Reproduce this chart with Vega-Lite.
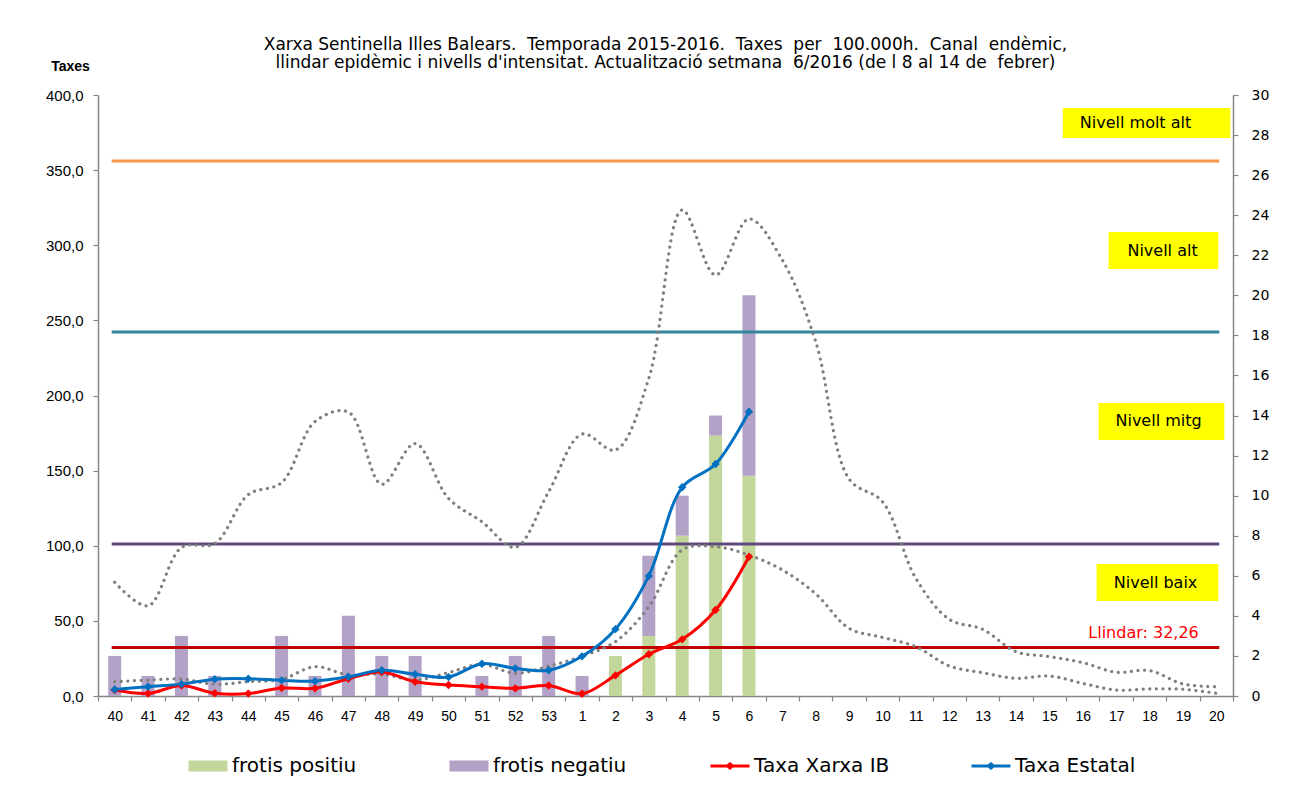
{
  "$schema": "https://vega.github.io/schema/vega-lite/v6.json",
  "width": 1135,
  "height": 601,
  "autosize": {"type": "none"},
  "padding": {"left": 98, "top": 95, "right": 68, "bottom": 98},
  "background": "#ffffff",
  "config": {
    "view": {"stroke": null},
    "axis": {"domainColor": "#868686", "tickColor": "#868686", "labelColor": "#000000", "grid": false, "domainWidth": 1.5, "tickWidth": 1.2},
    "axisX": {"title": null, "labelAngle": 0, "tickBand": "extent", "labelFont": "Liberation Sans", "labelFontSize": 14, "tickSize": 5, "labelPadding": 8}
  },
  "title": {
    "text": ["Xarxa Sentinella Illes Balears.\u00a0 Temporada 2015-2016.\u00a0 Taxes\u00a0 per\u00a0 100.000h.\u00a0 Canal\u00a0 endèmic,", "llindar epidèmic i nivells d'intensitat. Actualització setmana\u00a0 6/2016 (de l 8 al 14 de\u00a0 febrer)"],
    "font": "DejaVu Sans", "fontSize": 17, "fontWeight": "normal", "color": "#000000",
    "anchor": "middle", "frame": "group", "offset": 16, "dy": 29, "lineHeight": 18
  },
  "datasets": {
    "frotis": [
      {"setmana": "40", "serie": "frotis negatiu", "n": 2},
      {"setmana": "41", "serie": "frotis negatiu", "n": 1},
      {"setmana": "42", "serie": "frotis negatiu", "n": 3},
      {"setmana": "43", "serie": "frotis negatiu", "n": 1},
      {"setmana": "45", "serie": "frotis negatiu", "n": 3},
      {"setmana": "46", "serie": "frotis negatiu", "n": 1},
      {"setmana": "47", "serie": "frotis negatiu", "n": 4},
      {"setmana": "48", "serie": "frotis negatiu", "n": 2},
      {"setmana": "49", "serie": "frotis negatiu", "n": 2},
      {"setmana": "51", "serie": "frotis negatiu", "n": 1},
      {"setmana": "52", "serie": "frotis negatiu", "n": 2},
      {"setmana": "53", "serie": "frotis negatiu", "n": 3},
      {"setmana": "1", "serie": "frotis negatiu", "n": 1},
      {"setmana": "2", "serie": "frotis positiu", "n": 2},
      {"setmana": "3", "serie": "frotis positiu", "n": 3},
      {"setmana": "3", "serie": "frotis negatiu", "n": 4},
      {"setmana": "4", "serie": "frotis positiu", "n": 8},
      {"setmana": "4", "serie": "frotis negatiu", "n": 2},
      {"setmana": "5", "serie": "frotis positiu", "n": 13},
      {"setmana": "5", "serie": "frotis negatiu", "n": 1},
      {"setmana": "6", "serie": "frotis positiu", "n": 11},
      {"setmana": "6", "serie": "frotis negatiu", "n": 9}
    ],
    "taxes": [
      {"setmana": "40", "serie": "Taxa Xarxa IB", "taxa": 4.0},
      {"setmana": "41", "serie": "Taxa Xarxa IB", "taxa": 1.7},
      {"setmana": "42", "serie": "Taxa Xarxa IB", "taxa": 7.0},
      {"setmana": "43", "serie": "Taxa Xarxa IB", "taxa": 1.8},
      {"setmana": "44", "serie": "Taxa Xarxa IB", "taxa": 1.6},
      {"setmana": "45", "serie": "Taxa Xarxa IB", "taxa": 5.3},
      {"setmana": "46", "serie": "Taxa Xarxa IB", "taxa": 5.1},
      {"setmana": "47", "serie": "Taxa Xarxa IB", "taxa": 11.5},
      {"setmana": "48", "serie": "Taxa Xarxa IB", "taxa": 16.0},
      {"setmana": "49", "serie": "Taxa Xarxa IB", "taxa": 9.5},
      {"setmana": "50", "serie": "Taxa Xarxa IB", "taxa": 7.3},
      {"setmana": "51", "serie": "Taxa Xarxa IB", "taxa": 6.2},
      {"setmana": "52", "serie": "Taxa Xarxa IB", "taxa": 5.1},
      {"setmana": "53", "serie": "Taxa Xarxa IB", "taxa": 7.0},
      {"setmana": "1", "serie": "Taxa Xarxa IB", "taxa": 1.5},
      {"setmana": "2", "serie": "Taxa Xarxa IB", "taxa": 13.7},
      {"setmana": "3", "serie": "Taxa Xarxa IB", "taxa": 27.8},
      {"setmana": "4", "serie": "Taxa Xarxa IB", "taxa": 37.7},
      {"setmana": "5", "serie": "Taxa Xarxa IB", "taxa": 57.2},
      {"setmana": "6", "serie": "Taxa Xarxa IB", "taxa": 92.7},
      {"setmana": "40", "serie": "Taxa Estatal", "taxa": 4.3},
      {"setmana": "41", "serie": "Taxa Estatal", "taxa": 6.2},
      {"setmana": "42", "serie": "Taxa Estatal", "taxa": 7.9},
      {"setmana": "43", "serie": "Taxa Estatal", "taxa": 11.2},
      {"setmana": "44", "serie": "Taxa Estatal", "taxa": 11.5},
      {"setmana": "45", "serie": "Taxa Estatal", "taxa": 10.4},
      {"setmana": "46", "serie": "Taxa Estatal", "taxa": 9.9},
      {"setmana": "47", "serie": "Taxa Estatal", "taxa": 12.8},
      {"setmana": "48", "serie": "Taxa Estatal", "taxa": 17.1},
      {"setmana": "49", "serie": "Taxa Estatal", "taxa": 14.5},
      {"setmana": "50", "serie": "Taxa Estatal", "taxa": 12.6},
      {"setmana": "51", "serie": "Taxa Estatal", "taxa": 21.5},
      {"setmana": "52", "serie": "Taxa Estatal", "taxa": 18.4},
      {"setmana": "53", "serie": "Taxa Estatal", "taxa": 17.1},
      {"setmana": "1", "serie": "Taxa Estatal", "taxa": 26.4},
      {"setmana": "2", "serie": "Taxa Estatal", "taxa": 44.5},
      {"setmana": "3", "serie": "Taxa Estatal", "taxa": 79.9},
      {"setmana": "4", "serie": "Taxa Estatal", "taxa": 138.9},
      {"setmana": "5", "serie": "Taxa Estatal", "taxa": 154.4},
      {"setmana": "6", "serie": "Taxa Estatal", "taxa": 189.2}
    ],
    "canal": [
      {"setmana": "40", "limit": "superior", "taxa": 75.7},
      {"setmana": "41", "limit": "superior", "taxa": 60.0},
      {"setmana": "42", "limit": "superior", "taxa": 98.8},
      {"setmana": "43", "limit": "superior", "taxa": 101.5},
      {"setmana": "44", "limit": "superior", "taxa": 134.0},
      {"setmana": "45", "limit": "superior", "taxa": 142.0},
      {"setmana": "46", "limit": "superior", "taxa": 182.6},
      {"setmana": "47", "limit": "superior", "taxa": 189.0},
      {"setmana": "48", "limit": "superior", "taxa": 140.9},
      {"setmana": "49", "limit": "superior", "taxa": 168.0},
      {"setmana": "50", "limit": "superior", "taxa": 131.5},
      {"setmana": "51", "limit": "superior", "taxa": 116.0},
      {"setmana": "52", "limit": "superior", "taxa": 99.0},
      {"setmana": "53", "limit": "superior", "taxa": 136.0},
      {"setmana": "1", "limit": "superior", "taxa": 174.3},
      {"setmana": "2", "limit": "superior", "taxa": 163.7},
      {"setmana": "3", "limit": "superior", "taxa": 211.4},
      {"setmana": "4", "limit": "superior", "taxa": 323.5},
      {"setmana": "5", "limit": "superior", "taxa": 280.2},
      {"setmana": "6", "limit": "superior", "taxa": 317.5},
      {"setmana": "7", "limit": "superior", "taxa": 290.2},
      {"setmana": "8", "limit": "superior", "taxa": 235.8},
      {"setmana": "9", "limit": "superior", "taxa": 144.4},
      {"setmana": "10", "limit": "superior", "taxa": 129.3},
      {"setmana": "11", "limit": "superior", "taxa": 78.3},
      {"setmana": "12", "limit": "superior", "taxa": 51.0},
      {"setmana": "13", "limit": "superior", "taxa": 44.4},
      {"setmana": "14", "limit": "superior", "taxa": 29.5},
      {"setmana": "15", "limit": "superior", "taxa": 26.2},
      {"setmana": "16", "limit": "superior", "taxa": 22.2},
      {"setmana": "17", "limit": "superior", "taxa": 15.8},
      {"setmana": "18", "limit": "superior", "taxa": 16.9},
      {"setmana": "19", "limit": "superior", "taxa": 8.0},
      {"setmana": "20", "limit": "superior", "taxa": 6.2},
      {"setmana": "40", "limit": "inferior", "taxa": 9.5},
      {"setmana": "41", "limit": "inferior", "taxa": 10.6},
      {"setmana": "42", "limit": "inferior", "taxa": 11.3},
      {"setmana": "43", "limit": "inferior", "taxa": 7.8},
      {"setmana": "44", "limit": "inferior", "taxa": 9.5},
      {"setmana": "45", "limit": "inferior", "taxa": 11.1},
      {"setmana": "46", "limit": "inferior", "taxa": 19.5},
      {"setmana": "47", "limit": "inferior", "taxa": 14.0},
      {"setmana": "48", "limit": "inferior", "taxa": 14.6},
      {"setmana": "49", "limit": "inferior", "taxa": 10.6},
      {"setmana": "50", "limit": "inferior", "taxa": 15.6},
      {"setmana": "51", "limit": "inferior", "taxa": 21.0},
      {"setmana": "52", "limit": "inferior", "taxa": 15.1},
      {"setmana": "53", "limit": "inferior", "taxa": 19.8},
      {"setmana": "1", "limit": "inferior", "taxa": 26.5},
      {"setmana": "2", "limit": "inferior", "taxa": 36.2},
      {"setmana": "3", "limit": "inferior", "taxa": 59.4},
      {"setmana": "4", "limit": "inferior", "taxa": 97.2},
      {"setmana": "5", "limit": "inferior", "taxa": 99.4},
      {"setmana": "6", "limit": "inferior", "taxa": 93.8},
      {"setmana": "7", "limit": "inferior", "taxa": 83.9},
      {"setmana": "8", "limit": "inferior", "taxa": 68.0},
      {"setmana": "9", "limit": "inferior", "taxa": 45.0},
      {"setmana": "10", "limit": "inferior", "taxa": 39.0},
      {"setmana": "11", "limit": "inferior", "taxa": 32.8},
      {"setmana": "12", "limit": "inferior", "taxa": 20.0},
      {"setmana": "13", "limit": "inferior", "taxa": 15.5},
      {"setmana": "14", "limit": "inferior", "taxa": 11.8},
      {"setmana": "15", "limit": "inferior", "taxa": 13.3},
      {"setmana": "16", "limit": "inferior", "taxa": 8.4},
      {"setmana": "17", "limit": "inferior", "taxa": 4.0},
      {"setmana": "18", "limit": "inferior", "taxa": 4.7},
      {"setmana": "19", "limit": "inferior", "taxa": 4.5},
      {"setmana": "20", "limit": "inferior", "taxa": 1.8}
    ],
    "nivells": [
      {"nivell": "llindar", "taxa": 32.26},
      {"nivell": "mitg", "taxa": 101.2},
      {"nivell": "alt", "taxa": 242.3},
      {"nivell": "molt alt", "taxa": 356.1}
    ],
    "caixes": [
      {"nivell": "Nivell molt alt", "taxa_min": 371.4, "taxa_max": 391.3, "taxa_mig": 381.4},
      {"nivell": "Nivell alt", "taxa_min": 284.2, "taxa_max": 308.8, "taxa_mig": 296.5},
      {"nivell": "Nivell mitg", "taxa_min": 170.4, "taxa_max": 195.0, "taxa_mig": 182.7},
      {"nivell": "Nivell baix", "taxa_min": 63.2, "taxa_max": 87.9, "taxa_mig": 75.5}
    ]
  },
  "layer": [
    {
      "data": {"name": "frotis"},
      "mark": {"type": "bar", "width": 13},
      "encoding": {
        "x": {"field": "setmana", "type": "ordinal", "scale": {"type": "band", "domain": ["40","41","42","43","44","45","46","47","48","49","50","51","52","53","1","2","3","4","5","6","7","8","9","10","11","12","13","14","15","16","17","18","19","20"], "paddingInner": 0, "paddingOuter": 0}},
        "y": {"field": "n", "type": "quantitative", "stack": "zero", "scale": {"domain": [0, 30]},
          "axis": {"orient": "right", "title": null, "values": [0,2,4,6,8,10,12,14,16,18,20,22,24,26,28,30], "labelFont": "DejaVu Sans", "labelFontSize": 14, "tickSize": 5, "labelPadding": 13}},
        "order": {"field": "serie", "sort": "descending"},
        "color": {"field": "serie", "type": "nominal",
          "scale": {"domain": ["frotis positiu", "frotis negatiu", "Taxa Xarxa IB", "Taxa Estatal"], "range": ["#C3D69B", "#B3A2C7", "#FF0000", "#0070C0"]},
          "legend": {
            "title": null, "orient": "none", "legendX": 100, "legendY": 661, "direction": "horizontal", "columns": 4,
            "gridAlign": "all", "columnPadding": 75, "symbolSize": 1521, "labelFont": "DejaVu Sans", "labelFontSize": 20, "labelColor": "#000000", "labelOffset": 14,
            "encode": {"symbols": {"update": {
              "shape": {"signal": "indexof(['frotis positiu','frotis negatiu'], datum.value) >= 0 ? 'M-1,-0.28L1,-0.28L1,0.28L-1,0.28Z' : 'M-1,0L1,0M-0.13,0L0,-0.11L0.13,0L0,0.11Z'"},
              "size": {"value": 1521},
              "fill": {"scale": "color", "field": "value"},
              "stroke": {"scale": "color", "field": "value"},
              "strokeWidth": {"signal": "indexof(['frotis positiu','frotis negatiu'], datum.value) >= 0 ? 0 : 3"},
              "opacity": {"value": 1}
            }}}
          }}
      }
    },
    {
      "layer": [
        {
          "data": {"name": "nivells"},
          "mark": {"type": "rule", "strokeWidth": 3, "xOffset": -3, "x2Offset": 3},
          "encoding": {
            "x": {"datum": "40", "type": "ordinal", "scale": {"type": "band", "domain": ["40","41","42","43","44","45","46","47","48","49","50","51","52","53","1","2","3","4","5","6","7","8","9","10","11","12","13","14","15","16","17","18","19","20"], "paddingInner": 0, "paddingOuter": 0}},
            "x2": {"datum": "20"},
            "y": {"field": "taxa", "type": "quantitative", "scale": {"domain": [0, 400]},
              "axis": {"orient": "left", "values": [0,50,100,150,200,250,300,350,400], "labelExpr": "replace(format(datum.value, '.1f'), '.', ',')",
                "title": "Taxes", "titleAngle": 0, "titleX": -28, "titleY": -29, "titleAlign": "center", "titleBaseline": "middle",
                "titleFont": "Liberation Sans", "titleFontSize": 14, "titleFontWeight": "bold", "titleColor": "#000000",
                "labelFont": "Liberation Sans", "labelFontSize": 15, "tickSize": 5, "labelPadding": 10}},
            "stroke": {"field": "nivell", "type": "nominal", "scale": {"domain": ["llindar", "mitg", "alt", "molt alt"], "range": ["#C00000", "#604A7B", "#31859C", "#F79646"]}, "legend": null}
          }
        },
        {
          "data": {"name": "canal"},
          "mark": {"type": "line", "interpolate": "catmull-rom", "order": false, "color": "#7F7F7F", "strokeWidth": 3.2, "strokeCap": "round", "strokeDash": [0.1, 6.5]},
          "encoding": {
            "x": {"field": "setmana", "type": "ordinal", "scale": {"type": "band", "domain": ["40","41","42","43","44","45","46","47","48","49","50","51","52","53","1","2","3","4","5","6","7","8","9","10","11","12","13","14","15","16","17","18","19","20"], "paddingInner": 0, "paddingOuter": 0}},
            "y": {"field": "taxa", "type": "quantitative"},
            "detail": {"field": "limit"}
          }
        },
        {
          "data": {"name": "taxes"},
          "mark": {"type": "line", "interpolate": "catmull-rom", "order": false, "strokeWidth": 3, "point": {"shape": "diamond", "size": 70, "filled": true}},
          "encoding": {
            "x": {"field": "setmana", "type": "ordinal", "scale": {"type": "band", "domain": ["40","41","42","43","44","45","46","47","48","49","50","51","52","53","1","2","3","4","5","6","7","8","9","10","11","12","13","14","15","16","17","18","19","20"], "paddingInner": 0, "paddingOuter": 0}},
            "y": {"field": "taxa", "type": "quantitative"},
            "color": {"field": "serie", "type": "nominal"}
          }
        },
        {
          "data": {"values": [{"etiqueta": "Llindar: 32,26", "taxa": 32.26}]},
          "mark": {"type": "text", "font": "DejaVu Sans", "fontSize": 16, "color": "#FF0000", "dx": -6, "dy": -15, "baseline": "middle", "align": "center"},
          "encoding": {
            "x": {"datum": "18", "type": "ordinal", "scale": {"type": "band", "domain": ["40","41","42","43","44","45","46","47","48","49","50","51","52","53","1","2","3","4","5","6","7","8","9","10","11","12","13","14","15","16","17","18","19","20"], "paddingInner": 0, "paddingOuter": 0}},
            "y": {"field": "taxa", "type": "quantitative"},
            "text": {"field": "etiqueta"}
          }
        },
        {
          "data": {"name": "caixes"},
          "transform": [{"filter": "datum.nivell == 'Nivell molt alt'"}],
          "layer": [
            {"mark": {"type": "rect", "color": "#FFFF00", "xOffset": -20, "x2Offset": 14},
             "encoding": {"x": {"datum": "16", "type": "ordinal", "scale": {"type": "band", "domain": ["40","41","42","43","44","45","46","47","48","49","50","51","52","53","1","2","3","4","5","6","7","8","9","10","11","12","13","14","15","16","17","18","19","20"], "paddingInner": 0, "paddingOuter": 0}}, "x2": {"datum": "20"}, "y": {"field": "taxa_min", "type": "quantitative"}, "y2": {"field": "taxa_max"}}},
            {"mark": {"type": "text", "font": "DejaVu Sans", "fontSize": 16, "color": "#000000", "dx": -14, "baseline": "middle", "align": "center"},
             "encoding": {"x": {"datum": "18", "type": "ordinal"}, "y": {"field": "taxa_mig", "type": "quantitative"}, "text": {"field": "nivell"}}}
          ]
        },
        {
          "data": {"name": "caixes"},
          "transform": [{"filter": "datum.nivell == 'Nivell alt'"}],
          "layer": [
            {"mark": {"type": "rect", "color": "#FFFF00", "xOffset": -41, "x2Offset": 2},
             "encoding": {"x": {"datum": "18", "type": "ordinal", "scale": {"type": "band", "domain": ["40","41","42","43","44","45","46","47","48","49","50","51","52","53","1","2","3","4","5","6","7","8","9","10","11","12","13","14","15","16","17","18","19","20"], "paddingInner": 0, "paddingOuter": 0}}, "x2": {"datum": "20"}, "y": {"field": "taxa_min", "type": "quantitative"}, "y2": {"field": "taxa_max"}}},
            {"mark": {"type": "text", "font": "DejaVu Sans", "fontSize": 16, "color": "#000000", "dx": 13, "baseline": "middle", "align": "center"},
             "encoding": {"x": {"datum": "18", "type": "ordinal"}, "y": {"field": "taxa_mig", "type": "quantitative"}, "text": {"field": "nivell"}}}
          ]
        },
        {
          "data": {"name": "caixes"},
          "transform": [{"filter": "datum.nivell == 'Nivell mitg'"}],
          "layer": [
            {"mark": {"type": "rect", "color": "#FFFF00", "xOffset": -51, "x2Offset": 8},
             "encoding": {"x": {"datum": "18", "type": "ordinal", "scale": {"type": "band", "domain": ["40","41","42","43","44","45","46","47","48","49","50","51","52","53","1","2","3","4","5","6","7","8","9","10","11","12","13","14","15","16","17","18","19","20"], "paddingInner": 0, "paddingOuter": 0}}, "x2": {"datum": "20"}, "y": {"field": "taxa_min", "type": "quantitative"}, "y2": {"field": "taxa_max"}}},
            {"mark": {"type": "text", "font": "DejaVu Sans", "fontSize": 16, "color": "#000000", "dx": 9, "baseline": "middle", "align": "center"},
             "encoding": {"x": {"datum": "18", "type": "ordinal"}, "y": {"field": "taxa_mig", "type": "quantitative"}, "text": {"field": "nivell"}}}
          ]
        },
        {
          "data": {"name": "caixes"},
          "transform": [{"filter": "datum.nivell == 'Nivell baix'"}],
          "layer": [
            {"mark": {"type": "rect", "color": "#FFFF00", "xOffset": -53, "x2Offset": 2},
             "encoding": {"x": {"datum": "18", "type": "ordinal", "scale": {"type": "band", "domain": ["40","41","42","43","44","45","46","47","48","49","50","51","52","53","1","2","3","4","5","6","7","8","9","10","11","12","13","14","15","16","17","18","19","20"], "paddingInner": 0, "paddingOuter": 0}}, "x2": {"datum": "20"}, "y": {"field": "taxa_min", "type": "quantitative"}, "y2": {"field": "taxa_max"}}},
            {"mark": {"type": "text", "font": "DejaVu Sans", "fontSize": 16, "color": "#000000", "dx": 6, "baseline": "middle", "align": "center"},
             "encoding": {"x": {"datum": "18", "type": "ordinal"}, "y": {"field": "taxa_mig", "type": "quantitative"}, "text": {"field": "nivell"}}}
          ]
        }
      ]
    }
  ],
  "resolve": {"scale": {"y": "independent"}}
}
